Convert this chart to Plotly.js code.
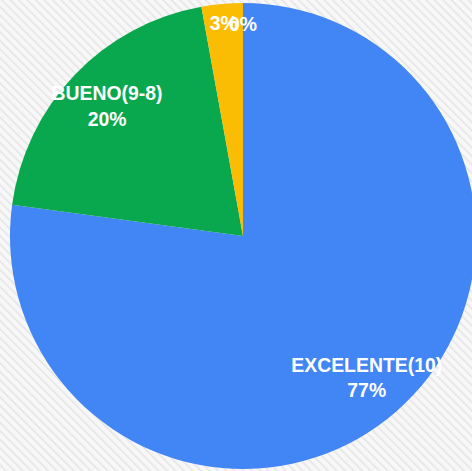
<!DOCTYPE html>
<html>
<head>
<meta charset="utf-8">
<script src="https://cdn.plot.ly/plotly-3.0.1.min.js"></script>
<style>
html,body{margin:0;padding:0;width:472px;height:471px;overflow:hidden;position:relative;
background:repeating-linear-gradient(45deg,#f7f7f7 0px,#f7f7f7 3px,#e4e4e4 4px,#f7f7f7 6px);}
#chart{position:absolute;left:-60px;top:-60px;width:620px;height:620px;}
</style>
</head>
<body>
<div id="chart"></div>
<script>
const categories = ["EXCELENTE(10)", "BUENO(9-8)", "REGULAR(7-6)", "MALO(5-0)"];
const counts = [27, 7, 1, 0];
const colors = ["#4285F4", "#0AA84E", "#FBBC04", "#E8453C"];
const templates = ["%{label}<br>%{percent:.0%}", "%{label}<br>%{percent:.0%}", "%{percent:.0%}", "%{percent:.0%}"];

const S = 620;
const clear = ["rgba(0,0,0,0)", "rgba(0,0,0,0)", "rgba(0,0,0,0)", "rgba(0,0,0,0)"];
const font = {family: "Liberation Sans, Arial, sans-serif", size: 19.4, color: "#ffffff", weight: "bold"};
const common = {
  type: "pie", labels: categories, values: counts, sort: false,
  direction: "clockwise", rotation: 0, hoverinfo: "none", showlegend: false,
  texttemplate: templates, insidetextorientation: "horizontal", textfont: font
};

Plotly.newPlot("chart", [
  // coloured pie, also labels the small slice
  Object.assign({}, common, {
    marker: {colors: colors, line: {width: 0}},
    textposition: ["none", "none", "inside", "none"],
    domain: {x: [70/S, 536/S], y: [91/S, 557/S]}
  }),
  // label layer for the two big slices
  Object.assign({}, common, {
    hole: 0.393,
    marker: {colors: clear, line: {width: 0}},
    textposition: ["inside", "inside", "none", "none"],
    domain: {x: [33/S, 573/S], y: [54/S, 594/S]}
  }),
  // label layer for the empty slice
  Object.assign({}, common, {
    marker: {colors: clear, line: {width: 0}},
    textposition: ["none", "none", "none", "inside"],
    domain: {x: [91/S, 515/S], y: [112/S, 536/S]}
  })
], {
  width: S, height: S,
  margin: {l: 0, r: 0, t: 0, b: 0},
  paper_bgcolor: "rgba(0,0,0,0)",
  plot_bgcolor: "rgba(0,0,0,0)",
  uniformtext: {minsize: 19.4, mode: "show"},
  showlegend: false
}, {displayModeBar: false, staticPlot: true});
</script>
</body>
</html>
